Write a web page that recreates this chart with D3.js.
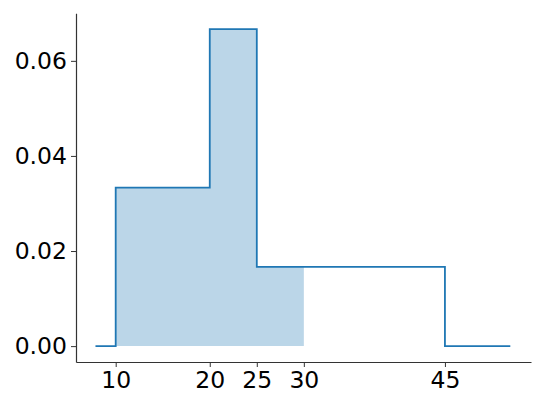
<!DOCTYPE html>
<html><head><meta charset="utf-8">
<script src="https://cdn.jsdelivr.net/npm/d3@7"></script>
<style>
html,body{margin:0;padding:0;background:#fff;}
svg text{font-family:"DejaVu Sans",sans-serif;}
</style>
</head><body>
<svg id="chart" width="550" height="404"></svg>
<script>
// Bin edges and densities of the step function
const binEdges = [10, 20, 25, 45];
const densities = [1/30, 1/15, 1/60];
const lineStart = 7.85, lineEnd = 51.95;
const fillStart = 10, fillEnd = 30;
const xTicks = [10, 20, 25, 30, 45];
const yTicks = [0, 0.02, 0.04, 0.06];

const svg = d3.select("#chart");
const mLeft = 76, mRight = 531, mTop = 13.3, mBottom = 362;
const x = d3.scaleLinear().domain([5.78, 54.15]).range([mLeft, mRight]);
const y = d3.scaleLinear().domain([-0.00334, 0.07]).range([mBottom, mTop]);

function density(v){
  for(let i=0;i<densities.length;i++){
    if(v>=binEdges[i] && v<binEdges[i+1]) return densities[i];
  }
  return 0;
}
// step points
const pts = [[lineStart,0]];
binEdges.forEach((e,i)=>{
  const prev = i===0?0:densities[i-1];
  const next = i<densities.length?densities[i]:0;
  pts.push([e,prev]); pts.push([e,next]);
});
pts.push([lineEnd,0]);

// fill area from fillStart to fillEnd
const fpts = [[fillStart, density(fillStart)]];
binEdges.forEach((e,i)=>{
  if(e>fillStart && e<fillEnd){
    const prev = densities[i-1];
    const next = i<densities.length?densities[i]:0;
    fpts.push([e,prev]); fpts.push([e,next]);
  }
});
fpts.push([fillEnd, density(fillEnd-1e-9)]);

svg.append("path")
  .datum(fpts)
  .attr("d", d3.area().x(d=>x(d[0])).y0(y(0)).y1(d=>y(d[1])))
  .attr("fill", "#1f77b4").attr("fill-opacity", 0.3);

svg.append("path")
  .datum(pts)
  .attr("d", d3.line().x(d=>x(d[0])).y(d=>y(d[1])))
  .attr("fill","none").attr("stroke","#1f77b4").attr("stroke-width",1.8);

const xAxis = svg.append("g").attr("transform",`translate(0,${mBottom})`)
  .call(d3.axisBottom(x).tickValues(xTicks).tickFormat(d3.format("d")).tickSize(5).tickPadding(4).tickSizeOuter(0));
const yAxis = svg.append("g").attr("transform",`translate(${mLeft},0)`)
  .call(d3.axisLeft(y).tickValues(yTicks).tickFormat(d3.format(".2f")).tickSize(5).tickPadding(4).tickSizeOuter(0));
[xAxis,yAxis].forEach(g=>{
  g.selectAll("text").attr("font-size",23.5).attr("fill","#000").attr("font-family","DejaVu Sans");
  g.selectAll("line").attr("stroke","#333");
  g.select(".domain").attr("stroke","#333").attr("stroke-width",1.2);
});
</script>
</body></html>
